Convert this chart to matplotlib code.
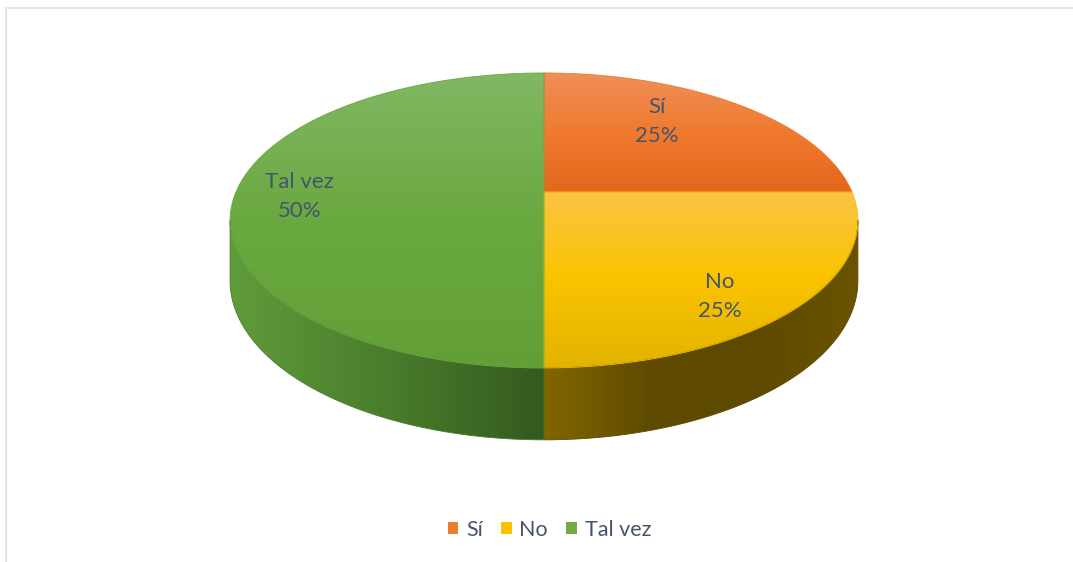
import matplotlib

matplotlib.use("Agg")

import matplotlib.pyplot as plt
import numpy as np
from matplotlib.colors import LinearSegmentedColormap
from matplotlib.patches import Patch, Polygon

categories = ["Sí", "No", "Tal vez"]
values = [25, 25, 50]
percent_labels = ["25%", "25%", "50%"]

legend_colors = ["#ed7d31", "#ffc000", "#70ad47"]
top_colors = [
    ["#ef8f5a", "#f07a2e", "#e3671c"],
    ["#fbc443", "#fac300", "#e3b300"],
    ["#80b864", "#6aa840", "#62a037"],
]
side_colors = [
    ["#b04f14", "#8a3c0c"],
    ["#816600", "#5f4b00", "#5d4900", "#6a5400"],
    ["#5f9c3c", "#4a7d2c", "#345a1f"],
]
TEXT_COLOR = "#44546a"
FONT = ["Lato", "DejaVu Sans"]

# layout of the tilted pie, in page pixels
CX, CY = 544, 192
RX, RY = 308, 142
PERSP = 0.193
DEPTH = 58
START_ANGLE = 90
# label anchors in disc coordinates (u right, v away from viewer)
LABEL_UV = [(0.405, 0.55), (0.50, -0.645), (-0.79, -0.03)]


def project(u, v, drop=0.0):
    w = 1 + PERSP * v
    return CX + RX * u / w, CY - (RY * v - drop) / w


def arc(t0, t1, drop=0.0, n=200):
    t = np.linspace(t0, t1, n)
    x, y = project(np.cos(t), np.sin(t), drop)
    return np.column_stack([x, y])


def gradient_fill(ax, verts, colors, vertical=True):
    patch = Polygon(verts, closed=True, facecolor="none", edgecolor="none")
    ax.add_patch(patch)
    cmap = LinearSegmentedColormap.from_list("g", colors)
    ramp = np.linspace(0, 1, 256)
    img = ramp[:, None] if vertical else ramp[None, :]
    x0, y0 = verts.min(axis=0)
    x1, y1 = verts.max(axis=0)
    im = ax.imshow(img, cmap=cmap, extent=(x0, x1, y0, y1), origin="lower",
                   aspect="auto", interpolation="bilinear", zorder=2)
    im.set_clip_path(patch)
    # thin outline in the mean colour hides clip aliasing
    ax.add_patch(Polygon(verts, closed=True, facecolor="none",
                         edgecolor=colors[len(colors) // 2], lw=0.6, zorder=2.5))


fig = plt.figure(figsize=(10.73, 5.62), dpi=100)
ax = fig.add_axes([0, 0, 1, 1])
ax.set_xlim(0, 1073)
ax.set_ylim(562, 0)
ax.axis("off")

total = sum(values)
spans = [2 * np.pi * v / total for v in values]
starts = np.deg2rad(START_ANGLE) - np.concatenate([[0], np.cumsum(spans)[:-1]])

# front part of the rim that shows the side wall
t_left = np.pi + np.arcsin(PERSP)
t_right = 2 * np.pi - np.arcsin(PERSP)

for start, span, cols in zip(starts, spans, side_colors):
    lo = (start - span) % (2 * np.pi)
    hi = lo + span
    for shift in (0, 2 * np.pi):
        a = max(lo, t_left + shift)
        b = min(hi, t_right + shift)
        if b <= a:
            continue
        top = arc(a, b)
        bottom = arc(b, a, drop=DEPTH)
        gradient_fill(ax, np.vstack([top, bottom]), cols, vertical=False)

for start, span, cols in zip(starts, spans, top_colors):
    rim = arc(start, start - span)
    centre = np.array([project(0, 0)])
    gradient_fill(ax, np.vstack([centre, rim]), cols, vertical=True)

for cat, pct, (u, v) in zip(categories, percent_labels, LABEL_UV):
    x, y = project(u, v)
    ax.text(x, y, f"{cat}\n{pct}", ha="center", va="center", fontsize=16,
            color=TEXT_COLOR, family=FONT, linespacing=1.55, zorder=5)

# chart frame
ax.plot([6, 1073], [8, 8], color="#e3e5ea", lw=1.5, zorder=1)
ax.plot([6, 6], [8, 562], color="#e3e5ea", lw=1.5, zorder=1)

handles = [Patch(facecolor=c, edgecolor="none") for c in legend_colors]
leg = fig.legend(handles, categories, loc="center", bbox_to_anchor=(0.512, 0.057),
                 ncol=3, frameon=False, handlelength=0.5, handleheight=0.5,
                 handletextpad=0.35, columnspacing=0.85,
                 prop={"family": FONT, "size": 15.5})
for txt in leg.get_texts():
    txt.set_color(TEXT_COLOR)

fig.savefig("out.png", dpi=100)
